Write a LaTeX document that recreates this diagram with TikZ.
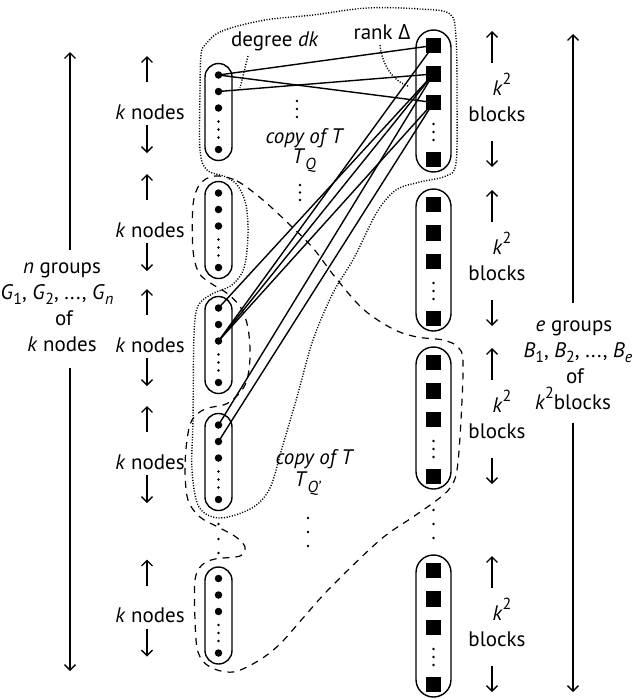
\documentclass[tikz,border=0pt]{standalone}
\usepackage{fontspec}
\setmainfont{PT Sans}
\newfontfamily\grkfont{Open Sans}
\usetikzlibrary{arrows.meta}
\newcommand{\mylo}[1]{\raisebox{-0.28em}{\fontsize{16}{16}\selectfont #1}}
\newcommand{\myhi}[1]{\raisebox{0.48em}{\fontsize{16}{16}\selectfont #1}}
\begin{document}
\begin{tikzpicture}[x=1pt,y=-1pt,
  lab/.style={font=\fontsize{21}{26}\selectfont, inner sep=0pt},
  capL/.style={draw, line width=1.4pt, rounded corners=13.5pt, minimum width=27pt, minimum height=97pt, inner sep=0pt},
  capR/.style={draw, line width=1.4pt, rounded corners=17.5pt, minimum width=35pt, minimum height=142pt, inner sep=0pt},
  dotn/.style={circle, fill, inner sep=0pt, minimum size=7.5pt},
  sqn/.style={rectangle, fill, inner sep=0pt, minimum size=15.5pt},
  edge/.style={line width=1.4pt},
  dotreg/.style={line width=1.4pt, dash pattern=on 1.1pt off 1.6pt},
  dashreg/.style={line width=1.2pt, dash pattern=on 7pt off 6pt},
  arr/.style={line width=1.3pt, -{Straight Barb[length=5.5pt,width=11pt,line width=1.3pt]}},
]
\useasboundingbox (0,0) rectangle (632,699);

% regions
\draw[dotreg] plot[smooth cycle, tension=0.55] coordinates {
 (205,45) (222,31) (265,20) (313,15) (367,8) (420,9) (450,14) (456,38) (457,100) (456,163)
 (446,176) (420,182) (396,190) (377,212) (354,258) (333,293) (313,340) (297,397) (282,448)
 (270,488) (252,508) (220,518) (199,507) (192,470) (193,420) (194,335) (198,306) (212,294)
 (232,285) (244,268) (248,235) (246,205) (238,186) (226,177) (207,170) (200,150) (200,90) (201,55)};
\draw[dashreg] plot[smooth cycle, tension=0.55] coordinates {
 (215,176) (237,181) (263,200) (290,225) (313,248) (335,277) (363,309) (393,329) (417,337)
 (443,340) (458,347) (463,362) (461,420) (457,470) (450,488) (437,500) (413,517) (380,540)
 (330,588) (303,618) (280,644) (258,661) (233,672) (210,667) (198,652) (195,620) (195,580)
 (202,565) (215,559) (240,556) (245,547) (236,537) (220,528) (200,517) (188,500) (185,470)
 (187,440) (192,420) (205,409) (228,403) (245,385) (250,358) (248,328) (241,308) (228,294)
 (212,284) (199,273) (193,250) (193,205) (200,184)};

% left capsules with dots
\foreach \cy/\nn in {112/1,230/2,345/3,462/4,615.5/5} {
  \node[capL] (G\nn) at (218.5,\cy) {};
  \node[dotn] (ga\nn) at (218.5,\cy-37) {};
  \node[dotn] (gb\nn) at (218.5,\cy-20.5) {};
  \node[dotn] (gc\nn) at (218.5,\cy-4) {};
  \node[dotn] (gz\nn) at (218.5,\cy+37.5) {};
  \foreach \dd in {9.5,17.5,25.5} \fill (218.5,\cy+\dd) circle (1.4pt);
  \node[lab] (kn\nn) at (150,\cy) {\textit{k} nodes};
  \draw[arr] (147,\cy-30) -- (147,\cy-56);
  \draw[arr] (147,\cy+13) -- (147,\cy+41);
}

% right capsules
\foreach \cy/\nn in {101/1,260/2,418/3,626/4} {
  \node[capR] (B\nn) at (433.5,\cy) {};
  \foreach \dd in {23,31,39} \fill (433.5,\cy+\dd) circle (1.4pt);
  \node[lab, anchor=base] (kk\nn) at (502,\cy-6) {\textit{k}\myhi{2}};
  \node[lab, anchor=base] (bl\nn) at (497,\cy+20) {blocks};
  \draw[arr] (492,\cy-38) -- (492,\cy-70);
  \draw[arr] (492,\cy+40) -- (492,\cy+66);
}

% square positions
\foreach \cy/\nn in {101/1,260/2,418/3,626/4} {
  \coordinate (pa\nn) at (433.5,\cy-55.5);
  \coordinate (pb\nn) at (433.5,\cy-27);
  \coordinate (pc\nn) at (433.5,\cy+1.5);
  \coordinate (pz\nn) at (433.5,\cy+58.5);
}

% edges
\draw[edge] (ga1.center) -- (pa1);
\draw[edge] (ga1.center) -- (pc1);
\draw[edge] (gb1.center) -- (pb1);
\draw[edge] (ga3.center) -- (pb1);
\draw[edge] (gc3.center) -- (pa1);
\draw[edge] (gc3.center) -- (pb1);
\draw[edge] (gc3.center) -- (pc1);
\draw[edge] (ga4.center) -- (pb1);
\draw[edge] (gb4.center) -- (pc1);

% squares on top
\foreach \nn in {1,2,3,4} {
  \node[sqn] (sa\nn) at (pa\nn) {};
  \node[sqn] (sb\nn) at (pb\nn) {};
  \node[sqn] (sc\nn) at (pc\nn) {};
  \node[sqn] (sz\nn) at (pz\nn) {};
}

% ellipsis dots between groups
\foreach \yy in {524,539,553} \fill (218.5,\yy) circle (1.4pt);
\foreach \yy in {510,524,538} \fill (433.5,\yy) circle (1.4pt);
\foreach \yy in {518,532,546} \fill (308,\yy) circle (1.4pt);
\foreach \yy in {101,109,117} \fill (297,\yy) circle (1.4pt);
\foreach \yy in {185,192.5,200} \fill (300,\yy) circle (1.4pt);

% inner labels
\node[lab] (deg) at (275,41) {degree \textit{dk}};
\node[lab] (rank) at (382,32) {rank {\grkfont Δ}};
\node[lab] (copyA) at (305,138) {\textit{copy of T}};
\node[lab] (tqA) at (304,161) {\textit{T}\mylo{\textit{Q}}};
\node[lab] (copyB) at (315,459) {\textit{copy of T}};
\node[lab] (tqB) at (308,484) {\textit{T}\mylo{\textit{Q’}}};
\coordinate (degA) at (248,56);
\coordinate (degB) at (240,88);
\draw[dotreg] (degA) -- (degB);
\coordinate (rkA) at (380,45);
\coordinate (rkB) at (408,86);
\draw[dotreg] (rkA) .. controls (382,63) and (391,80) .. (rkB);

% big left label
\node[lab, anchor=base] (nl1) at (62,273) {\textit{n} groups};
\node[lab, anchor=base] (nl2) at (57,299) {\textit{G}\mylo{1}, \textit{G}\mylo{2}, ..., \textit{G}\mylo{\textit{n}}};
\node[lab, anchor=base] (nl3) at (64,325) {of};
\node[lab, anchor=base] (nl4) at (62,351) {\textit{k} nodes};
\coordinate (nTop) at (70,52);
\coordinate (nBot) at (70,671);
\draw[arr] (70,250) -- (nTop);
\draw[arr] (70,368) -- (nBot);

% big right label
\node[lab, anchor=base] (el1) at (574,331) {\textit{e} groups};
\node[lab, anchor=base] (el2) at (578,357) {\textit{B}\mylo{1}, \textit{B}\mylo{2}, ..., \textit{B}\mylo{\textit{e}}};
\node[lab, anchor=base] (el3) at (575,383) {of};
\node[lab, anchor=base] (el4) at (573,409) {\textit{k}\myhi{2}blocks};
\coordinate (eTop) at (573,34);
\coordinate (eBot) at (573,692);
\draw[arr] (573,303) -- (eTop);
\draw[arr] (573,423) -- (eBot);
\end{tikzpicture}
\end{document}
